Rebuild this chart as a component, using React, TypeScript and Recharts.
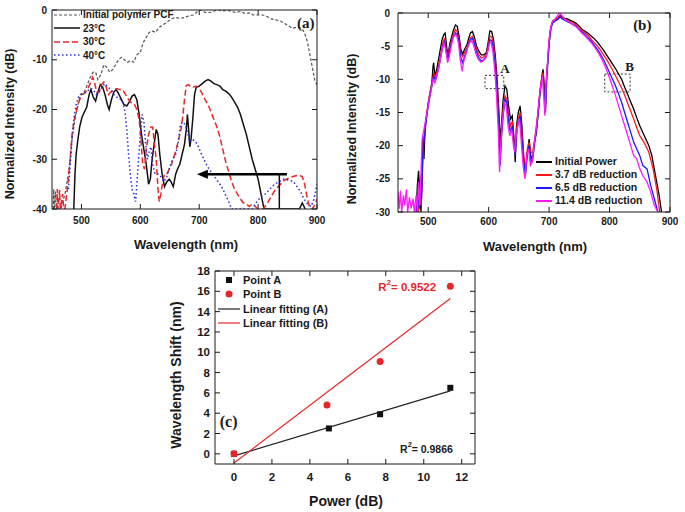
import React from 'react'
import { LineChart, ComposedChart, Line, Scatter, XAxis, YAxis, ReferenceDot, ReferenceArea, Legend } from 'recharts'

type Pt = [number, number]

// ---- panel (a): spectra vs temperature (wavelength nm, dB)
const pcfSpectrum: Pt[] = [
  [452, -40], [453, -36], [454, -40], [456, -36.5], [457, -40], [465, -40], [472, -37], [478, -33], [485, -25],
  [492, -20], [498, -17], [505, -16.5], [510, -15], [515, -13.5], [520, -12.5], [524, -12.5], [528, -14],
  [533, -13], [538, -11], [543, -11.5], [548, -12.5], [553, -12], [558, -11], [563, -10], [568, -9.5],
  [573, -10], [578, -10.5], [584, -10.2], [589, -10.5], [594, -9], [600, -8.5], [605, -6.5], [610, -5.5],
  [615, -4.5], [620, -4.2], [626, -4.5], [632, -3.5], [638, -3], [645, -2.5], [652, -1.8], [660, -1.5],
  [668, -1.7], [675, -1.5], [682, -1.2], [690, -1], [697, -0.3], [703, 0], [710, -0.5], [718, -0.5],
  [725, -0.2], [732, 0], [740, -0.2], [748, 0], [755, -0.3], [762, -0.5], [770, -0.3], [778, -0.7],
  [785, -0.6], [792, -1], [800, -1], [808, -1], [815, -1.3], [822, -1.8], [830, -2], [838, -2.2],
  [845, -2.7], [852, -3.2], [858, -3.7], [864, -3.5], [870, -3.5], [876, -4], [880, -5], [884, -6.5],
  [888, -9], [892, -11.5], [896, -14], [900, -15],
]
const t23Spectrum: Pt[] = [
  [487, -40], [489, -33], [491, -29], [494, -26], [497, -23.5], [501, -21.5], [505, -20.5], [509, -19.5],
  [513, -17], [516, -16], [520, -17.5], [524, -18.3], [528, -16.5], [532, -15], [536, -15.5], [540, -17],
  [544, -19], [547, -20], [551, -18], [555, -16.5], [559, -16], [563, -16.8], [568, -18], [572, -19],
  [577, -19.3], [581, -18.5], [586, -17.3], [590, -17], [594, -18], [598, -21], [602, -25], [606, -28],
  [610, -31], [614, -35], [617, -34], [620, -30], [624, -26.5], [627, -24], [630, -25], [633, -29],
  [637, -33], [641, -35.5], [645, -34.5], [649, -34], [652, -34.5], [656, -35.5], [660, -33], [663, -32],
  [667, -31], [671, -29], [675, -27], [678, -24], [680, -21], [682, -24], [684, -27.5], [686, -26],
  [689, -22], [692, -17], [695, -15.5], [700, -15.3], [705, -14.8], [710, -14.3], [715, -14], [720, -14.3],
  [725, -14.8], [730, -15], [735, -15.3], [740, -16], [745, -16.3], [750, -16.8], [755, -17.5], [760, -18.5],
  [765, -19.5], [770, -21], [775, -23], [780, -25], [785, -27.5], [790, -30], [795, -32], [800, -34],
  [805, -37], [810, -40], [870, -40], [875, -38.8], [880, -40],
]
const t30Spectrum: Pt[] = [
  [458, -40], [459, -36], [460, -40], [463, -36.2], [464, -40], [468, -37], [470, -40],
  [472, -40], [476, -36], [480, -31], [484, -25], [488, -22], [492, -20], [497, -18], [502, -17],
  [507, -16.5], [512, -15.5], [516, -14.5], [519, -13.5], [522, -14.5], [526, -16.5], [530, -16.5],
  [534, -15], [538, -14.5], [542, -15.5], [546, -17], [550, -16.5], [555, -16], [560, -15.8], [565, -16],
  [570, -16], [575, -17], [580, -18], [585, -18.7], [590, -19], [594, -20], [598, -22], [601, -26],
  [604, -31], [607, -32], [610, -28], [614, -25], [618, -23.5], [621, -23.5], [624, -27], [627, -30],
  [630, -36], [632, -38.5], [635, -37], [638, -34.5], [641, -33], [645, -33], [649, -32], [653, -31],
  [657, -29.5], [661, -28], [665, -26], [669, -24], [672, -21.5], [675, -18], [678, -15.2], [682, -15],
  [686, -15.5], [690, -15.5], [695, -15.3], [700, -15.8], [705, -16.8], [710, -18], [715, -19], [720, -20.5],
  [725, -22], [730, -23.5], [735, -25.5], [740, -28], [745, -30.5], [750, -32.5], [755, -34.5], [760, -36],
  [765, -37], [770, -38], [775, -38.8], [780, -39], [785, -39.5], [790, -39], [795, -39.5], [800, -40],
  [808, -40], [815, -39], [822, -37.5], [830, -36], [838, -35], [845, -34.2], [852, -33.8], [858, -33.5],
  [864, -33.3], [870, -33.2], [875, -33.5], [879, -35], [883, -37.5], [887, -39.5], [892, -40], [897, -39], [900, -38],
]
const t40Spectrum: Pt[] = [
  [478, -36], [481, -31], [484, -26], [487, -22], [491, -19], [495, -17.5], [500, -17], [505, -16.7],
  [510, -16.3], [515, -15.8], [520, -16], [525, -17], [530, -16.5], [535, -15.5], [540, -14.8], [545, -15.5],
  [550, -16], [555, -17], [560, -17.5], [565, -17.8], [570, -18.5], [574, -20.5], [577, -24], [580, -29],
  [583, -33], [586, -36], [589, -37], [592, -38.5], [594, -35], [597, -30], [600, -25], [603, -21],
  [606, -22.5], [609, -27], [612, -30], [615, -28.5], [618, -27.5], [621, -31], [625, -33], [630, -33],
  [635, -33.5], [640, -34.5], [645, -33.5], [650, -31.5], [655, -30], [660, -29], [664, -27], [668, -23],
  [672, -22.5], [676, -23], [680, -24.5], [684, -26.5], [688, -26], [692, -26.3], [697, -27], [702, -28.5],
  [708, -30], [714, -31.5], [720, -32.5], [726, -33.5], [732, -34.5], [738, -35.5], [744, -37], [750, -38.5],
  [755, -40], [790, -40], [798, -38.5], [805, -37.5], [812, -37], [820, -36], [828, -35], [836, -34.5],
  [844, -34], [852, -34.2], [860, -34.5], [866, -35.5], [872, -36.5], [878, -38], [884, -39], [890, -39.5],
  [895, -38], [900, -35],
]
const arrowShaft: Pt[] = [[849, -33], [704, -33]]
const arrowTail: Pt[] = [[836, -40], [836, -33]]
const arrowTip: Pt = [696, -33]

// ---- panel (b): spectra vs power reduction
const initialPower: Pt[] = [
  [480, -30], [482, -26], [484, -23.8], [486, -27], [488, -30], [490, -24], [491, -18.5], [493, -22],
  [495, -17], [498, -15], [501, -13], [504, -11.5], [506, -10.5], [508, -8], [509, -7.5], [511, -9.5],
  [514, -8.5], [517, -7], [520, -5.5], [523, -4], [526, -3.2], [528, -3], [531, -5.5], [533, -6.2],
  [536, -4.5], [539, -3.5], [542, -2.5], [545, -1.8], [548, -2], [551, -3.5], [554, -5.5], [557, -6.2],
  [560, -5.5], [564, -4.8], [567, -3.8], [570, -3], [573, -2.8], [576, -3.5], [580, -5], [584, -5.8],
  [588, -6.3], [592, -6.3], [596, -6], [599, -4.5], [602, -2.7], [605, -2.8], [608, -4], [611, -6.5],
  [614, -10], [617, -15], [619, -19.5], [621, -17], [624, -13], [627, -11], [630, -11.5], [633, -14],
  [636, -16], [639, -15.5], [642, -19], [644, -22.5], [646, -17], [649, -15], [652, -14], [655, -17],
  [658, -22], [661, -24], [664, -21], [667, -19], [670, -22], [673, -21.5], [676, -19.5], [679, -18],
  [682, -15], [685, -12], [688, -9.5], [690, -8.5], [692, -11], [694, -14], [696, -9], [698, -7],
  [700, -4.5], [703, -2.2], [706, -1.2], [710, -1], [714, -0.8], [718, -0.4], [722, -0.6], [726, -0.8],
  [730, -0.9], [735, -1.1], [740, -1.3], [745, -1.6], [750, -2], [755, -2.5], [760, -2.8], [765, -3.1],
  [770, -3.5], [775, -3.9], [780, -4.4], [785, -5], [790, -5.6], [795, -6.3], [800, -7], [805, -7.7],
  [810, -8.4], [815, -9.2], [820, -10], [825, -11.2], [830, -12.3], [835, -13.4], [840, -14.5], [845, -15.8],
  [850, -17], [855, -18], [860, -19], [865, -20], [870, -21.5], [874, -23.5], [878, -25.5], [882, -27.5], [886, -30],
]
const reduction37: Pt[] = [
  [484, -30], [486, -26.5], [488, -29], [490, -25], [492, -20], [494, -18], [497, -15.5], [500, -13.5],
  [503, -12], [506, -10.8], [509, -9], [512, -9.8], [515, -8.8], [518, -7.5], [521, -6], [524, -4.6],
  [527, -3.8], [530, -5.8], [533, -6.5], [536, -5], [539, -4], [542, -3.2], [545, -2.5], [548, -2.8],
  [551, -4], [554, -6], [557, -6.6], [560, -6], [564, -5.3], [567, -4.4], [570, -3.7], [573, -3.5],
  [576, -4.1], [580, -5.5], [584, -6.3], [588, -6.8], [592, -6.6], [596, -6.2], [599, -5], [602, -3.5],
  [605, -3.6], [608, -4.8], [611, -7.2], [614, -11], [617, -16.5], [619, -22], [621, -18], [624, -14.5],
  [627, -12.5], [630, -13], [633, -15.5], [636, -17], [639, -16.3], [642, -19.5], [644, -21], [646, -17.5],
  [649, -15.8], [652, -15], [655, -18], [658, -21.5], [661, -23.5], [664, -20.5], [667, -19.5], [670, -21],
  [673, -21], [676, -19], [679, -17], [682, -14.5], [685, -11.5], [688, -9.8], [690, -9], [692, -12],
  [694, -14.5], [696, -9.5], [698, -7], [700, -4], [703, -2], [706, -1.3], [710, -1.1], [714, -0.8],
  [718, -0.5], [722, -0.8], [726, -0.9], [730, -1.1], [735, -1.3], [740, -1.5], [745, -1.8], [750, -2.2],
  [755, -2.7], [760, -3], [765, -3.4], [770, -4], [775, -4.5], [780, -5], [785, -5.6], [790, -6.3],
  [795, -7], [800, -7.8], [805, -8.6], [810, -9.5], [815, -10.4], [820, -11.3], [825, -12.4], [830, -13.6],
  [835, -14.8], [840, -16], [845, -17.3], [850, -18.5], [857, -19.5], [865, -21], [872, -23.5], [878, -26.5], [883, -30],
]
const reduction65: Pt[] = [
  [481, -30], [483, -27], [485, -29.5], [487, -26], [489, -28], [491, -21], [494, -18.5], [497, -16],
  [500, -14], [503, -12.5], [506, -11], [509, -9.5], [512, -10.2], [515, -9.2], [518, -8], [521, -6.5],
  [524, -5], [527, -4.2], [530, -6], [533, -7], [536, -5.5], [539, -4.3], [542, -3.5], [545, -3],
  [548, -3.2], [551, -4.5], [554, -6.8], [557, -7.5], [560, -6.6], [564, -5.6], [567, -4.6], [570, -4],
  [573, -3.8], [576, -4.5], [580, -6], [584, -6.8], [588, -7.3], [592, -7], [596, -6.5], [599, -5.5],
  [602, -4], [605, -4.2], [608, -5.5], [611, -8], [614, -12], [617, -17.5], [619, -23], [621, -19],
  [624, -15.5], [627, -13], [630, -13.5], [633, -16.5], [636, -18], [639, -17], [642, -20], [644, -21.5],
  [646, -18.5], [649, -16.5], [652, -15.5], [655, -19], [658, -22.5], [661, -24.5], [664, -21], [667, -20],
  [670, -22.5], [673, -22], [676, -19.5], [679, -17.5], [682, -15], [685, -12], [688, -10], [690, -9.5],
  [692, -12.5], [694, -15], [696, -10], [698, -7.5], [700, -4.5], [703, -2.3], [706, -1.5], [710, -1.2],
  [714, -1], [718, -0.6], [722, -0.9], [726, -1.1], [730, -1.3], [735, -1.5], [740, -1.8], [745, -2],
  [750, -2.5], [755, -2.9], [760, -3.3], [765, -3.8], [770, -4.3], [775, -4.9], [780, -5.5], [785, -6.2],
  [790, -7], [795, -8], [800, -9], [805, -10], [810, -11], [815, -12.2], [820, -13.5], [825, -15],
  [830, -16.5], [835, -18], [840, -19.5], [845, -20.5], [850, -21.5], [855, -23], [862, -23.5], [868, -26],
  [874, -28], [880, -30],
]
const reduction114: Pt[] = [
  [450, -27], [452, -29.5], [454, -26.8], [456, -30], [459, -27.5], [461, -29], [464, -26.6], [466, -30],
  [469, -27.8], [472, -29.5], [475, -28], [477, -30], [480, -27.5], [482, -30], [484, -25.5], [486, -29],
  [488, -24], [490, -19], [493, -17.5], [496, -16], [499, -14.5], [502, -12.8], [505, -11.5], [508, -10],
  [511, -10.5], [514, -9.5], [517, -8.5], [520, -7], [523, -5.5], [526, -4.5], [529, -5.5], [532, -7.5],
  [535, -6.5], [538, -5], [541, -3.8], [544, -3.2], [547, -3.4], [550, -4.5], [553, -7], [556, -8.8],
  [559, -7.2], [563, -6], [566, -5], [569, -4.4], [572, -4.2], [575, -4.8], [579, -6.2], [583, -7],
  [587, -7.4], [591, -7.2], [595, -6.8], [598, -6], [601, -4.6], [604, -4.4], [607, -5.8], [610, -8.5],
  [613, -12.5], [616, -18], [618, -24], [620, -20], [623, -16], [626, -13.5], [629, -14], [632, -17],
  [635, -18.5], [638, -17.5], [641, -20], [643, -21], [645, -19], [648, -17], [651, -16], [654, -19.5],
  [657, -23], [660, -25], [663, -21.5], [666, -20.5], [669, -23], [672, -22.5], [675, -20], [678, -18],
  [681, -15.5], [684, -12.5], [687, -10.5], [689, -9.5], [691, -12.5], [693, -15.5], [695, -10.5], [697, -8],
  [699, -5], [702, -2.5], [705, -1.4], [709, -1], [713, -0.5], [717, 0], [721, -0.3], [725, -0.9],
  [730, -1.2], [735, -1.5], [740, -1.8], [745, -2.1], [750, -2.6], [755, -3.1], [760, -3.5], [765, -4],
  [770, -4.5], [775, -5.1], [780, -5.8], [785, -6.6], [790, -7.5], [795, -8.6], [800, -9.8], [805, -11.1],
  [810, -12.5], [815, -14], [820, -15.5], [825, -17], [830, -18.5], [835, -20], [840, -21.5], [845, -22],
  [850, -23.5], [855, -24.5], [862, -25.5], [868, -27], [874, -29], [880, -30],
]
const boxA = { x1: 594, x2: 625, y1: -11.4, y2: -9.4 }
const boxB = { x1: 792, x2: 834, y1: -11.9, y2: -9.2 }

// ---- panel (c): wavelength shift vs power
const powerA = [0, 5, 7.7, 11.4]
const shiftA = [0, 2.5, 3.9, 6.5]
const powerB = [0, 4.9, 7.7, 11.4]
const shiftB = [0, 4.8, 9.1, 16.5]
const fitA: Pt[] = [[0, -0.2], [11.4, 6.2]]
const fitB: Pt[] = [[0, -0.9], [11.4, 15.3]]

const xy = (pts: Pt[]) => pts.map(([x, y]) => ({ x, y }))
const zip = (xs: number[], ys: number[]) => xs.map((x, i) => ({ x, y: ys[i] }))

const ink = '#1a1a1a'
const blank = () => ''

function yTitle(text: string, x: number, y: number, size: number) {
  return () => (
    <text x={x} y={y} transform={`rotate(-90 ${x} ${y})`} textAnchor="middle" dominantBaseline="central"
      fontSize={size} fontWeight={700} fill={ink}>{text}</text>
  )
}
function xTitle(text: string, x: number, y: number, size: number) {
  return () => (
    <text x={x} y={y} textAnchor="middle" dominantBaseline="central" fontSize={size} fontWeight={700} fill={ink}>{text}</text>
  )
}
function note(text: string, opts: { size: number; color?: string; serif?: boolean; sup?: string; rest?: string }) {
  return (props: any) => {
    const vb = props.viewBox || props
    const x = vb.x + (vb.width || 0) / 2
    const y = vb.y + (vb.height || 0) / 2
    return (
      <text x={x} y={y} dominantBaseline="central" fontSize={opts.size} fontWeight={700} fill={opts.color || ink}
        fontFamily={opts.serif ? '"Liberation Serif", "DejaVu Serif", serif' : undefined}>
        {text}
        {opts.sup && <tspan dy={-5} fontSize={opts.size * 0.7}>{opts.sup}</tspan>}
        {opts.rest && <tspan dy={5}>{opts.rest}</tspan>}
      </text>
    )
  }
}

type Row = { label: string; color: string; dash?: string; kind?: 'line' | 'square' | 'circle'; w?: number }
function legendBox(rows: Row[], fontSize: number, rowH: number, sampleW: number) {
  return () => (
    <div style={{ fontSize, fontWeight: 700, color: ink, lineHeight: `${rowH}px` }}>
      {rows.map((r) => (
        <div key={r.label} style={{ display: 'flex', alignItems: 'center', height: rowH, whiteSpace: 'nowrap' }}>
          <svg width={sampleW} height={10} style={{ marginRight: 3 }}>
            {(!r.kind || r.kind === 'line') && (
              <line x1={0} y1={5} x2={sampleW} y2={5} stroke={r.color} strokeWidth={r.w || 1.5} strokeDasharray={r.dash} />
            )}
            {r.kind === 'square' && <rect x={sampleW / 2 - 3} y={2} width={6} height={6} fill={r.color} />}
            {r.kind === 'circle' && <circle cx={sampleW / 2} cy={5} r={3.5} fill={r.color} />}
          </svg>
          <span>{r.label}</span>
        </div>
      ))}
    </div>
  )
}

const legendA: Row[] = [
  { label: 'Initial polymer PCF', color: '#555', dash: '3 2', w: 1.2 },
  { label: '23°C', color: '#111' },
  { label: '30°C', color: '#e8262a', dash: '6 3' },
  { label: '40°C', color: '#2b2bd6', dash: '1.5 2.5' },
]
const legendB: Row[] = [
  { label: 'Initial Power', color: '#000', w: 2 },
  { label: '3.7 dB reduction', color: '#ff1a1a', w: 2 },
  { label: '6.5 dB reduction', color: '#1a1aff', w: 2 },
  { label: '11.4 dB reduction', color: '#ff1aff', w: 2 },
]
const legendC: Row[] = [
  { label: 'Point A', color: '#111', kind: 'square' },
  { label: 'Point B', color: '#e8262a', kind: 'circle' },
  { label: 'Linear fitting (A)', color: '#222', w: 1.2 },
  { label: 'Linear fitting (B)', color: '#e8262a', w: 1.2 },
]

const tickA = { fontSize: 10, fontWeight: 700, fill: ink }
const tickC = { fontSize: 11.5, fontWeight: 700, fill: ink }

export default function App() {
  return (
    <div style={{ position: 'absolute', left: 0, top: 0, width: 685, height: 512, background: '#fff', fontFamily: '"Liberation Sans", Arial, sans-serif' }}>
      {/* (a) */}
      <div style={{ position: 'absolute', left: 0, top: 0 }}>
        <LineChart width={330} height={260} margin={{ top: 9, right: 12, bottom: 0, left: 0 }}>
          <XAxis type="number" dataKey="x" domain={[450, 900]} ticks={[500, 600, 700, 800, 900]} allowDataOverflow
            height={51} stroke={ink} tickSize={-5} tickMargin={13} tick={tickA} label={xTitle('Wavelength (nm)', 186, 244, 13)} />
          <XAxis xAxisId="t" orientation="top" type="number" dataKey="x" domain={[450, 900]} ticks={[500, 600, 700, 800, 900]}
            allowDataOverflow height={1} stroke={ink} tickSize={-5} tickFormatter={blank} />
          <YAxis type="number" domain={[-40, 0]} ticks={[-40, -30, -20, -10, 0]} allowDataOverflow width={52}
            stroke={ink} tickSize={-5} tickMargin={10} tick={tickA} label={yTitle('Normalized Intensity (dB)', 10, 124, 12.5)} />
          <YAxis yAxisId="r" orientation="right" type="number" domain={[-40, 0]} ticks={[-40, -30, -20, -10, 0]}
            allowDataOverflow width={1} stroke={ink} tickSize={-5} tickFormatter={blank} />
          {/* invisible series so the mirrored frame axes get drawn */}
          <Line xAxisId="t" yAxisId="r" data={xy(pcfSpectrum)} dataKey="y" stroke="none" dot={false} legendType="none" isAnimationActive={false} />
          <Line data={xy(pcfSpectrum)} dataKey="y" stroke="#555" strokeWidth={1.2} strokeDasharray="3 2" dot={false} isAnimationActive={false} />
          <Line data={xy(t23Spectrum)} dataKey="y" stroke="#111" strokeWidth={1.5} dot={false} isAnimationActive={false} />
          <Line data={xy(t30Spectrum)} dataKey="y" stroke="#e8262a" strokeWidth={1.5} strokeDasharray="6 3" dot={false} isAnimationActive={false} />
          <Line data={xy(t40Spectrum)} dataKey="y" stroke="#2b2bd6" strokeWidth={1.5} strokeDasharray="1.5 2.5" dot={false} isAnimationActive={false} />
          <Line data={xy(arrowTail)} dataKey="y" stroke="#111" strokeWidth={1.5} dot={false} isAnimationActive={false} />
          <Line data={xy(arrowShaft)} dataKey="y" stroke="#000" strokeWidth={2.5} dot={false} isAnimationActive={false} />
          <ReferenceDot x={arrowTip[0]} y={arrowTip[1]} r={5}
            shape={(p: any) => <path d={`M${p.cx},${p.cy} L${p.cx + 11},${p.cy - 4.5} L${p.cx + 11},${p.cy + 4.5} Z`} fill="#000" />} />
          <ReferenceDot x={866} y={-2.6} r={0} fill="none" stroke="none" label={note('(a)', { size: 15, serif: true })} />
          <Legend layout="vertical" align="center" verticalAlign="middle" content={legendBox(legendA, 10, 13.5, 26)}
            wrapperStyle={{ left: 54, top: 8, width: 'auto', height: 'auto' }} />
        </LineChart>
      </div>

      {/* (b) */}
      <div style={{ position: 'absolute', left: 340, top: 0 }}>
        <LineChart width={345} height={260} margin={{ top: 12, right: 14, bottom: 0, left: 0 }}>
          <XAxis type="number" dataKey="x" domain={[450, 900]} ticks={[500, 600, 700, 800, 900]} allowDataOverflow
            height={48} stroke={ink} tickSize={-5} tickMargin={11} tick={tickA} label={xTitle('Wavelength (nm)', 195, 246, 13)} />
          <XAxis xAxisId="t" orientation="top" type="number" dataKey="x" domain={[450, 900]} ticks={[500, 600, 700, 800, 900]}
            allowDataOverflow height={1} stroke={ink} tickSize={-5} tickFormatter={blank} />
          <YAxis type="number" domain={[-30, 0]} ticks={[-30, -25, -20, -15, -10, -5, 0]} allowDataOverflow width={58}
            stroke={ink} tickSize={-5} tickMargin={13} tick={tickA} label={yTitle('Normalized Intensity (dB)', 12, 129, 12.5)} />
          <YAxis yAxisId="r" orientation="right" type="number" domain={[-30, 0]} ticks={[-30, -25, -20, -15, -10, -5, 0]}
            allowDataOverflow width={1} stroke={ink} tickSize={-5} tickFormatter={blank} />
          <Line xAxisId="t" yAxisId="r" data={xy(initialPower)} dataKey="y" stroke="none" dot={false} legendType="none" isAnimationActive={false} />
          <Line data={xy(initialPower)} dataKey="y" stroke="#000" strokeWidth={1.3} dot={false} isAnimationActive={false} />
          <Line data={xy(reduction37)} dataKey="y" stroke="#ff1a1a" strokeWidth={1.3} dot={false} isAnimationActive={false} />
          <Line data={xy(reduction65)} dataKey="y" stroke="#1a1aff" strokeWidth={1.3} dot={false} isAnimationActive={false} />
          <Line data={xy(reduction114)} dataKey="y" stroke="#ff1aff" strokeWidth={1.3} dot={false} isAnimationActive={false} />
          <ReferenceArea {...boxA} fill="none" stroke="#333" strokeDasharray="2 2" ifOverflow="visible" />
          <ReferenceArea {...boxB} fill="none" stroke="#333" strokeDasharray="2 2" ifOverflow="visible" />
          <ReferenceDot x={619} y={-8.3} r={0} fill="none" stroke="none" label={note('A', { size: 13, serif: true })} />
          <ReferenceDot x={826} y={-8.1} r={0} fill="none" stroke="none" label={note('B', { size: 13, serif: true })} />
          <ReferenceDot x={839} y={-1.8} r={0} fill="none" stroke="none" label={note('(b)', { size: 15, serif: true })} />
          <Legend layout="vertical" align="center" verticalAlign="middle" content={legendBox(legendB, 10.5, 13, 16)}
            wrapperStyle={{ left: 196, top: 155, width: 'auto', height: 'auto' }} />
        </LineChart>
      </div>

      {/* (c) */}
      <div style={{ position: 'absolute', left: 160, top: 255 }}>
        <ComposedChart width={340} height={257} margin={{ top: 15, right: 24, bottom: 0, left: 0 }}>
          <XAxis type="number" dataKey="x" domain={[-1, 12.7]} ticks={[0, 2, 4, 6, 8, 10, 12]} allowDataOverflow
            height={48} stroke={ink} tickSize={-5} tickMargin={14} tick={tickC} label={xTitle('Power (dB)', 186, 246, 14)} />
          <XAxis xAxisId="t" orientation="top" type="number" dataKey="x" domain={[-1, 12.7]} ticks={[0, 2, 4, 6, 8, 10, 12]}
            allowDataOverflow height={1} stroke={ink} tickSize={-5} tickFormatter={blank} />
          <YAxis type="number" dataKey="y" domain={[-1, 18]} ticks={[0, 2, 4, 6, 8, 10, 12, 14, 16, 18]} allowDataOverflow
            width={55} stroke={ink} tickSize={-5} tickMargin={10} tick={tickC} label={yTitle('Wavelength Shift (nm)', 16, 120, 14)} />
          <YAxis yAxisId="r" orientation="right" type="number" dataKey="y" domain={[-1, 18]} ticks={[0, 2, 4, 6, 8, 10, 12, 14, 16, 18]}
            allowDataOverflow width={1} stroke={ink} tickSize={-5} tickFormatter={blank} />
          <Line xAxisId="t" yAxisId="r" data={xy(fitB)} dataKey="y" stroke="none" dot={false} legendType="none" isAnimationActive={false} />
          <Line data={xy(fitA)} dataKey="y" stroke="#222" strokeWidth={1.2} dot={false} isAnimationActive={false} />
          <Line data={xy(fitB)} dataKey="y" stroke="#e8262a" strokeWidth={1.2} dot={false} isAnimationActive={false} />
          <Scatter data={zip(powerA, shiftA)} dataKey="y" isAnimationActive={false}
            shape={(p: any) => <rect x={p.cx - 3} y={p.cy - 3} width={6} height={6} fill="#111" />} />
          <Scatter data={zip(powerB, shiftB)} dataKey="y" isAnimationActive={false}
            shape={(p: any) => <circle cx={p.cx} cy={p.cy} r={3.5} fill="#e8262a" />} />
          <ReferenceDot x={7.6} y={16.4} r={0} fill="none" stroke="none"
            label={note('R', { size: 11.5, color: '#e8262a', sup: '2', rest: '= 0.9522' })} />
          <ReferenceDot x={8.75} y={0.5} r={0} fill="none" stroke="none"
            label={note('R', { size: 10.5, sup: '2', rest: '= 0.9866' })} />
          <ReferenceDot x={-0.75} y={3.2} r={0} fill="none" stroke="none" label={note('(c)', { size: 16, serif: true })} />
          <Legend layout="vertical" align="center" verticalAlign="middle" content={legendBox(legendC, 11, 14.3, 22)}
            wrapperStyle={{ left: 58, top: 18, width: 'auto', height: 'auto' }} />
        </ComposedChart>
      </div>
    </div>
  )
}
